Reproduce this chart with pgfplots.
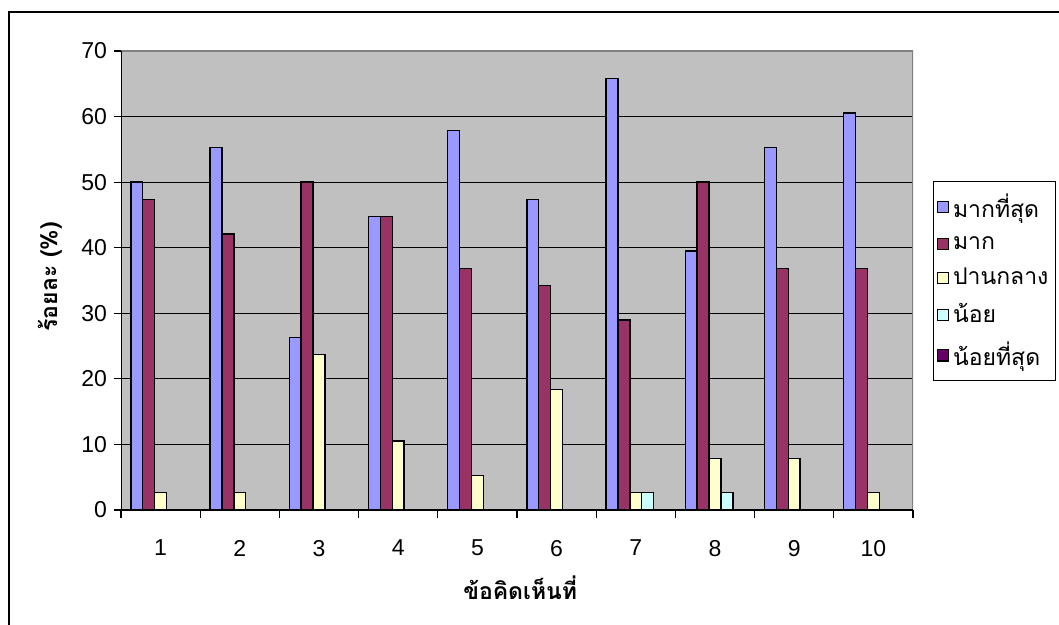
\documentclass[border=0pt]{standalone}
\usepackage{fontspec}
\setmainfont{Liberation Sans}
\newfontfamily\thaifont[Script=Thai]{Loma}
\usepackage{pgfplots}
\usepackage{pgfplotstable}
\pgfplotsset{compat=1.18}
\definecolor{sA}{HTML}{9999FF}
\definecolor{sB}{HTML}{993366}
\definecolor{sC}{HTML}{FFFFCC}
\definecolor{sD}{HTML}{CCFFFF}
\definecolor{sE}{HTML}{660066}
\definecolor{plotgray}{HTML}{C0C0C0}
\definecolor{bordergray}{HTML}{808080}
\pgfplotstableread{
x  a      b      c      d     e
1  50.00  47.37  2.63   0     0
2  55.26  42.11  2.63   0     0
3  26.32  50.00  23.68  0     0
4  44.74  44.74  10.53  0     0
5  57.89  36.84  5.26   0     0
6  47.37  34.21  18.42  0     0
7  65.79  28.95  2.63   2.63  0
8  39.47  50.00  7.89   2.63  0
9  55.26  36.84  7.89   0     0
10 60.53  36.84  2.63   0     0
}\datatable
\pgfplotsset{
  mybar/.style={fill=#1, draw=black, line width=0.7pt,
    legend image code/.code={\draw[fill=#1, draw=black, line width=0.6pt] (0pt,-2.8pt) rectangle (5.6pt,2.8pt);}},
}
\begin{document}
\begin{tikzpicture}[x=1pt,y=1pt]
\useasboundingbox (-60.5,-57.5) rectangle (469,255);
\draw[line width=1pt] (-56,-57.5) -- (-56,249) -- (469,249);
\begin{axis}[
  at={(0,0)}, anchor=south west,
  scale only axis, width=396pt, height=229.5pt,
  ybar=0pt, bar width=0.15,
  xmin=0.5, xmax=10.5, ymin=0, ymax=70,
  xtick={1,...,10},
  major x tick style={draw=none},
  minor xtick={0.5,1.5,...,10.5},
  minor x tick style={black, line width=0.6pt},
  ytick={0,10,...,70},
  major y tick style={black, line width=0.6pt},
  xtick pos=bottom, ytick pos=left,
  tick align=outside,
  major tick length=3.5pt, minor tick length=4pt,
  ymajorgrids,
  grid style={black, line width=0.6pt},
  axis background/.style={fill=plotgray},
  axis line style={draw=none},
  tick label style={font=\fontsize{11.5}{13}\selectfont},
  xticklabel style={yshift=-8pt},
  /pgf/number format/assume math mode=true,
  ylabel={\thaifont\bfseries ร้อยละ (\%)},
  ylabel style={at={(axis description cs:-0.0896,0.508)}, anchor=center, font=\fontsize{11.5}{13}\selectfont},
  xlabel={\thaifont\bfseries ข้อคิดเห็นที่},
  xlabel style={at={(axis description cs:0.504,-0.170)}, anchor=center, font=\fontsize{11.5}{13}\selectfont},
  legend style={at={(axis description cs:1.0253,0.7168)}, anchor=north west,
    draw=black, line width=0.6pt, font=\thaifont\fontsize{11.5}{13}\selectfont,
    row sep=4pt, inner xsep=1.5pt, inner ysep=4pt},
  legend cell align=left,
]
\addplot[mybar=sA] table[x=x,y=a]{\datatable};
\addplot[mybar=sB] table[x=x,y=b]{\datatable};
\addplot[mybar=sC] table[x=x,y=c]{\datatable};
\addplot[mybar=sD] table[x=x,y=d]{\datatable};
\addplot[mybar=sE] table[x=x,y=e]{\datatable};
\legend{มากที่สุด,มาก,ปานกลาง,น้อย,น้อยที่สุด}
\draw[bordergray, line width=0.8pt] (rel axis cs:0,1) -- (rel axis cs:1,1) -- (rel axis cs:1,0);
\draw[black, line width=0.8pt] (rel axis cs:0,1) -- (rel axis cs:0,0) -- (rel axis cs:1,0);
\end{axis}
\end{tikzpicture}
\end{document}
